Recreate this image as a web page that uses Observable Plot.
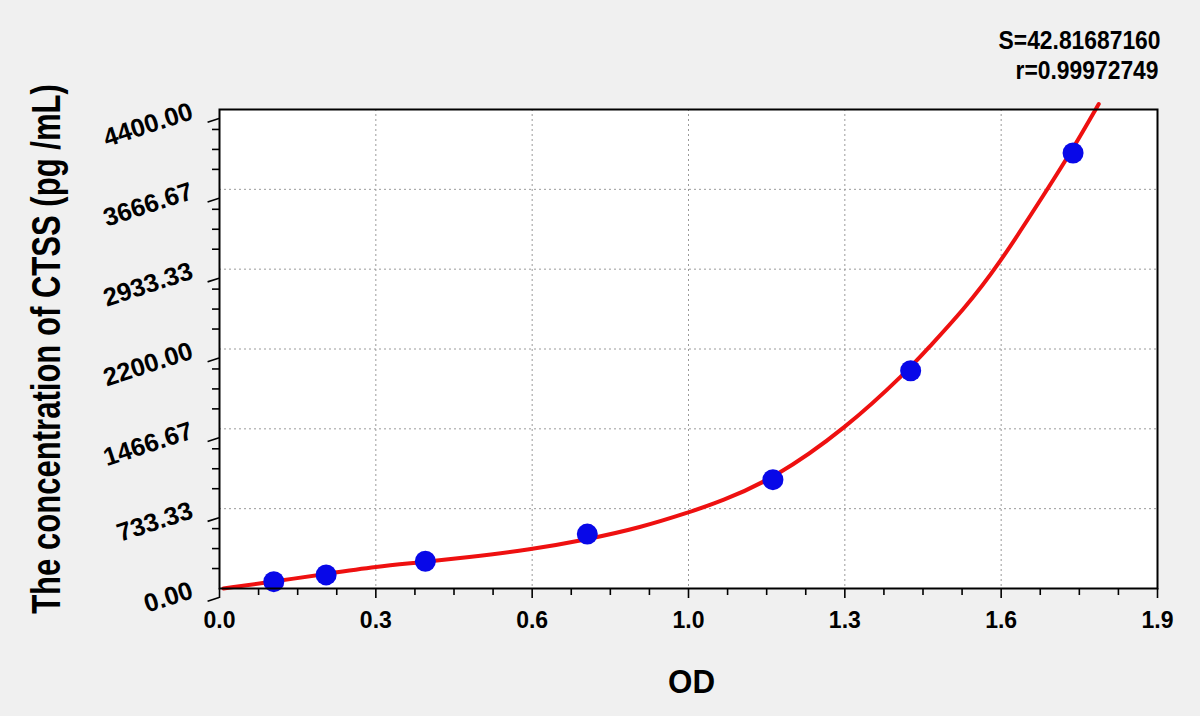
<!DOCTYPE html>
<html>
<head>
<meta charset="utf-8">
<script src="https://cdn.jsdelivr.net/npm/d3@7"></script>
<script src="https://cdn.jsdelivr.net/npm/@observablehq/plot@0.6"></script>
<style>
  html, body { margin: 0; padding: 0; background: #f0f0f0; }
  #chart { width: 1200px; height: 716px; }
</style>
</head>
<body>
<div id="chart"></div>
<script>
// Standard points (OD vs concentration)
const odValues = [0.110, 0.216, 0.417, 0.745, 1.121, 1.400, 1.729];
const concValues = [62.5, 125, 250, 500, 1000, 2000, 4000];

// Fitted curve
const curveX = [0.008, 0.111, 0.221, 0.318, 0.407, 0.5, 0.63, 0.745, 0.853, 0.95, 1.015, 1.12, 1.268, 1.396, 1.434, 1.507, 1.575, 1.677, 1.729, 1.781];
const curveY = [0, 64, 138, 202, 239, 285, 358, 450, 560, 698, 799, 1001, 1467, 2010, 2200, 2560, 2950, 3667, 4040, 4450];

// Axes
const xTicks = [0, 0.31667, 0.63333, 0.95, 1.26667, 1.58333, 1.9];
const xTickLabels = ["0.0", "0.3", "0.6", "1.0", "1.3", "1.6", "1.9"];
const yTicks = [0, 733.33, 1466.67, 2200, 2933.33, 3666.67, 4400];
const yTickLabels = ["0.00", "733.33", "1466.67", "2200.00", "2933.33", "3666.67", "4400.00"];

const xLabel = "OD";
const yLabel = "The concentration of CTSS (pg /mL)";
const statS = "S=42.81687160";
const statR = "r=0.99972749";

const points = odValues.map((x, i) => ({x, y: concValues[i]}));
const curve = curveX.map((x, i) => ({x, y: curveY[i]}));

// minor ticks: 3 between each major
const xMinor = [];
for (let i = 0; i < xTicks.length - 1; i++) for (let k = 1; k < 4; k++) xMinor.push(xTicks[i] + (xTicks[i+1] - xTicks[i]) * k / 4);
const yMinor = [];
for (let i = 0; i < yTicks.length - 1; i++) for (let k = 1; k < 4; k++) yMinor.push(yTicks[i] + (yTicks[i+1] - yTicks[i]) * k / 4);

const font = "'Liberation Sans', Arial, sans-serif";

const chart = Plot.plot({
  width: 1200,
  height: 716,
  marginLeft: 219,
  marginRight: 43,
  marginTop: 109,
  marginBottom: 128,
  style: {background: "#f0f0f0", fontFamily: font, color: "black", overflow: "visible"},
  x: {domain: [0, 1.9]},
  y: {domain: [0, 4400]},
  marks: [
    Plot.frame({fill: "white", stroke: "none"}),
    Plot.gridX(xTicks.slice(1, -1), {stroke: "#9a9a9a", strokeOpacity: 1, strokeWidth: 1, strokeDasharray: "2,3"}),
    Plot.gridY(yTicks.slice(1, -1), {stroke: "#9a9a9a", strokeOpacity: 1, strokeWidth: 1, strokeDasharray: "2,3"}),
    Plot.axisX(xMinor, {tickSize: 7, tickFormat: () => "", strokeWidth: 1.6, label: null}),
    Plot.axisX(xTicks, {tickSize: 10, strokeWidth: 1.6, tickPadding: 13, tickFormat: d => xTickLabels[xTicks.indexOf(d)], fontSize: 23, fontWeight: "bold", label: null}),
    Plot.axisY(yMinor, {tickSize: 7, tickFormat: () => "", strokeWidth: 1.6, label: null}),
    Plot.axisY(yTicks, {tickSize: 12, strokeWidth: 1.6, tickPadding: 13, tickFormat: d => yTickLabels[yTicks.indexOf(d)], fontSize: 25.5, fontWeight: "bold", textAnchor: "end", lineAnchor: "bottom", rotate: -18, dy: 9, label: null}),
    Plot.line(curve, {x: "x", y: "y", stroke: "#ee1010", strokeWidth: 4, curve: "basis"}),
    Plot.dot(points, {x: "x", y: "y", r: 10.5, fill: "#0808e8", stroke: "none"}),
    Plot.frame({stroke: "black", strokeWidth: 2}),
    Plot.text([yLabel], {text: d => d, frameAnchor: "left", textAnchor: "middle", dx: -160, rotate: -90, fontSize: 40, fontWeight: "bold", fill: "black"}),
    Plot.text([xLabel], {text: d => d, frameAnchor: "bottom", dx: 3, dy: 104, fontSize: 33, fontWeight: "bold", fill: "black"}),
    Plot.text([statS], {text: d => d, frameAnchor: "top-right", textAnchor: "end", dx: 3, dy: -61, fontSize: 25, fontWeight: "bold", fill: "black"}),
    Plot.text([statR], {text: d => d, frameAnchor: "top-right", textAnchor: "end", dx: 1, dy: -31, fontSize: 25, fontWeight: "bold", fill: "black"})
  ]
});

document.getElementById("chart").appendChild(chart);

// condense the wide labels to the reference widths (scale along the text direction)
const lengths = {[yLabel]: 530, [xLabel]: 47, [statS]: 162, [statR]: 143};
d3.select(chart).selectAll("text").each(function() {
  const t = this.textContent;
  if (lengths[t] === undefined) return;
  const len = this.getComputedTextLength();
  if (!len) return;
  const s = lengths[t] / len;
  const x = +this.getAttribute("x") || 0, y = +this.getAttribute("y") || 0;
  this.removeAttribute("x"); this.removeAttribute("y");
  const tr = this.getAttribute("transform") || "";
  this.setAttribute("transform", `${tr} translate(${x},${y}) scale(${s},1)`);
});
</script>
</body>
</html>
